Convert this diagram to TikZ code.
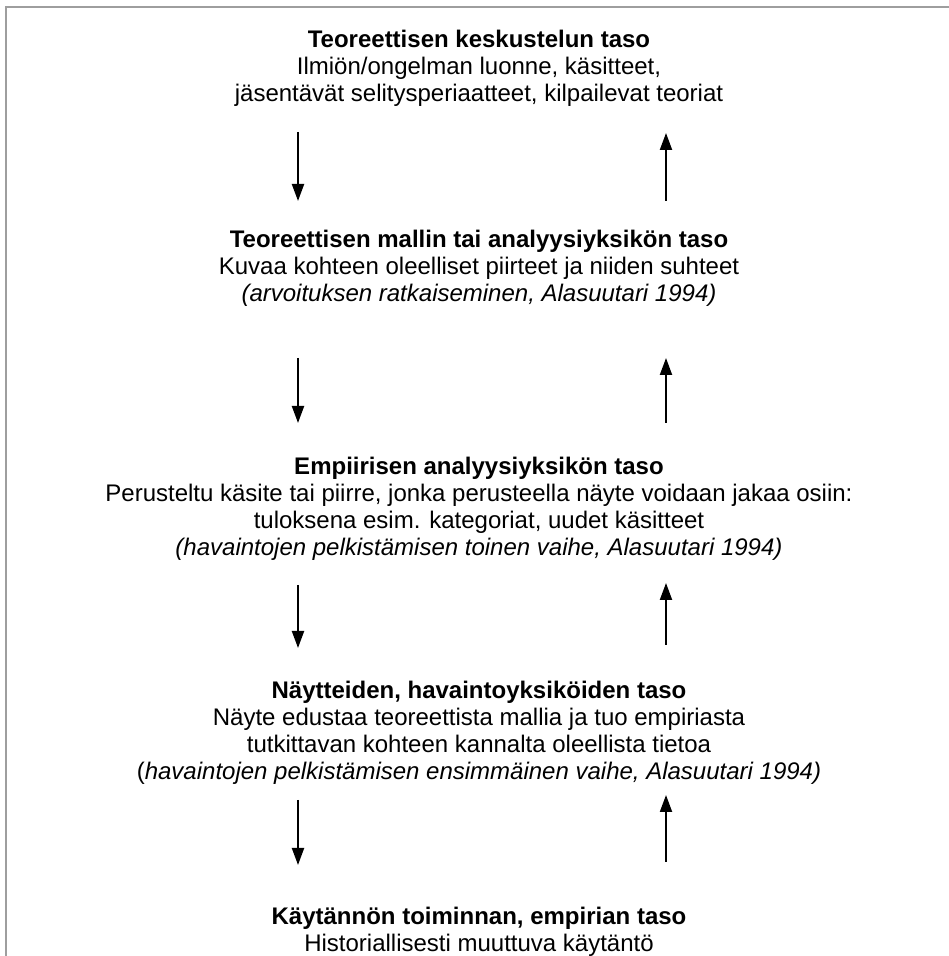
\documentclass[tikz,border=0pt]{standalone}
\usepackage{fontspec}
\setmainfont{Liberation Sans}
\usetikzlibrary{arrows.meta}
\begin{document}
\begin{tikzpicture}[x=1pt,y=1pt,
  level/.style={anchor=north, align=center, inner sep=0pt,
    font=\fontsize{24}{27}\selectfont},
  flow/.style={line width=2pt, -{Triangle[length=17pt,width=12pt]}},
  frameline/.style={draw=black!38, line width=2pt}]
\useasboundingbox (0,0) rectangle (949,956);
% frame edges
\draw[frameline] (6,0) -- (6,949) -- (949,949);

% levels
\node[level] (l1) at (479,927.9) {\strut\textbf{Teoreettisen keskustelun taso}\\
  \strut Ilmiön/ongelman luonne, käsitteet,\\
  \strut jäsentävät selitysperiaatteet, kilpailevat teoriat};
\node[level] (l2) at (479,727.9) {\strut\textbf{Teoreettisen mallin tai analyysiyksikön taso}\\
  \strut Kuvaa kohteen oleelliset piirteet ja niiden suhteet\\
  \strut\textit{(arvoituksen ratkaiseminen, Alasuutari 1994)}};
\node[level] (l3) at (479,500.9) {\strut\textbf{Empiirisen analyysiyksikön taso}\\
  \strut Perusteltu käsite tai piirre, jonka perusteella näyte voidaan jakaa osiin:\\
  \strut tuloksena esim. kategoriat, uudet käsitteet\\
  \strut\textit{(havaintojen pelkistämisen toinen vaihe, Alasuutari 1994)}};
\node[level] (l4) at (479,276.4) {\strut\textbf{Näytteiden, havaintoyksiköiden taso}\\
  \strut Näyte edustaa teoreettista mallia ja tuo empiriasta\\
  \strut tutkittavan kohteen kannalta oleellista tietoa\\
  \strut(\textit{havaintojen pelkistämisen ensimmäinen vaihe, Alasuutari 1994)}};
\node[level] (l5) at (479,50.9) {\strut\textbf{Käytännön toiminnan, empirian taso}\\
  \strut Historiallisesti muuttuva käytäntö};

% arrow end points
\coordinate (d1s) at (298,824); \coordinate (d1e) at (298,755);
\coordinate (u1s) at (666,755); \coordinate (u1e) at (666,823);
\coordinate (d2s) at (298,598); \coordinate (d2e) at (298,533);
\coordinate (u2s) at (666,533); \coordinate (u2e) at (666,598);
\coordinate (d3s) at (298,371); \coordinate (d3e) at (298,308);
\coordinate (u3s) at (666,311); \coordinate (u3e) at (666,373);
\coordinate (d4s) at (298,156); \coordinate (d4e) at (298,91);
\coordinate (u4s) at (666,94);  \coordinate (u4e) at (666,161);

\foreach \i in {1,2,3,4}{
  \draw[flow] (d\i s) -- (d\i e);
  \draw[flow] (u\i s) -- (u\i e);
}
\end{tikzpicture}
\end{document}
